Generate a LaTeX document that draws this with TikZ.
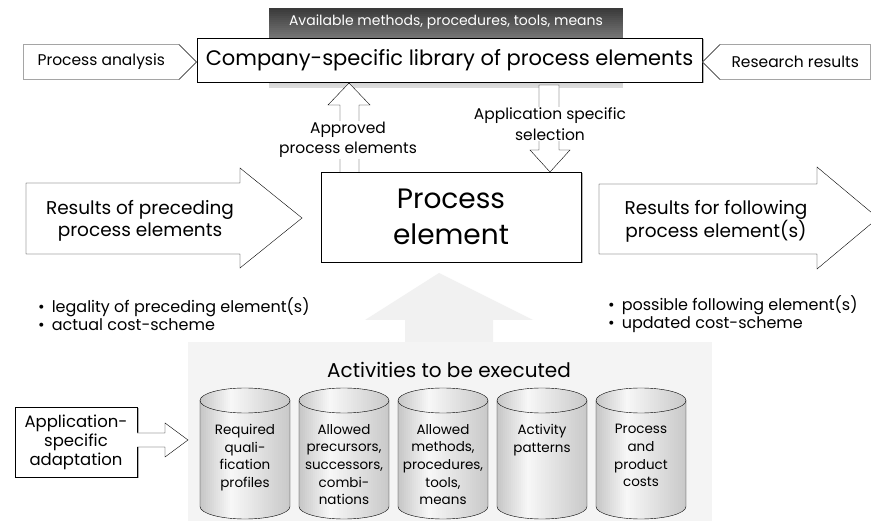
\documentclass[tikz,border=0pt]{standalone}
\usepackage{fontspec}
\setmainfont{Poppins}
\usepackage{tikz}
\usetikzlibrary{shadows,positioning,shapes.symbols}

\definecolor{bandtop}{HTML}{3A3A3A}
\definecolor{bandbot}{HTML}{DCDCDC}

\tikzset{
  box/.style={draw, fill=white, thin, inner sep=0pt, align=center,
    drop shadow={shadow xshift=1.5pt, shadow yshift=-1.5pt, opacity=1, fill=black!30}},
  plain/.style={drop shadow={shadow xshift=0pt, shadow yshift=0pt, opacity=1, fill=white}},
  outl/.style={draw=black, thin, fill=white, plain},
  tag/.style={signal, draw=black, fill=white, thin, plain, signal pointer angle=90, inner sep=0pt,
    minimum height=35pt, font=\fontsize{15.5}{20}\selectfont},
  lbl/.style={font=\fontsize{15.5}{20}\selectfont, align=center},
  bigtxt/.style={font=\fontsize{18.5}{22}\selectfont, align=center},
  bullets/.style={font=\fontsize{16}{18}\selectfont, align=left, anchor=west, inner sep=0pt},
  cyltext/.style={font=\fontsize{13.5}{17.7}\selectfont, align=center, anchor=north, inner sep=0pt},
}

\begin{document}
\begin{tikzpicture}[x=1pt, y=1pt]
\fill[white] (0,0) rectangle (871,-521);
\useasboundingbox (0,0) rectangle (871,-521);

% band of available means (stepped gradient)
\foreach \i in {0,...,39} {
  \pgfmathsetmacro\p{100*\i/39}
  \fill[bandbot!\p!bandtop] (269,-8-2*\i) rectangle (623,-10.3-2*\i);
}
\node[lbl, text=white, font=\fontsize{14}{16}\selectfont] (avail) at (446,-22) {Available methods, procedures, tools, means};

% library
\node[box, minimum width=505pt, minimum height=44pt, font=\fontsize{21}{24}\selectfont] (lib) at (449.5,-60) {Company-specific library of process elements};

% inputs to the library
\node[tag, signal to=east, minimum width=173pt, anchor=east] (ana) at ([yshift=-2pt]lib.west) {Process analysis};
\node[tag, signal to=west, minimum width=168pt, anchor=west] (res) at ([yshift=-2pt]lib.east) {Research results};

% activities background and big grey arrow
\fill[gray!9] (188,-342) rectangle (712,-521);
\fill[gray!11] (439,-273) -- (533,-320) -- (493,-320) -- (493,-342) -- (405,-342) -- (405,-320) -- (365,-320) -- cycle;

% process element
\node[box, minimum width=260pt, minimum height=90pt, font=\fontsize{28}{36}\selectfont] (pe) at (451,-217) {Process\\element};

% library <-> process element
\filldraw[outl] (340,-172) -- (340,-105) -- (328,-105) -- (349,-83) -- (370,-105) -- (359,-105) -- (359,-172);
\node[lbl, fill=white, inner sep=1pt] (appr) at (348,-140) {Approved\\process elements};
\filldraw[outl] (539,-85) -- (539,-150) -- (530,-150) -- (550,-172) -- (570,-150) -- (559,-150) -- (559,-85) -- cycle;
\node[lbl, fill=white, inner sep=1pt, font=\fontsize{15.5}{21}\selectfont] (sel) at (550,-124) {Application specific\\selection};

% preceding and following results
\filldraw[outl] (26,-183) -- (240,-183) -- (240,-168) -- (302,-218) -- (240,-268) -- (240,-254) -- (26,-254) -- cycle;
\node[bigtxt] (prev) at (140,-221) {Results of preceding\\process elements};
\filldraw[outl] (599,-184) -- (817,-184) -- (817,-167) -- (878,-218) -- (817,-269) -- (817,-254) -- (599,-254) -- cycle;
\node[bigtxt] (next) at (716,-221) {Results for following\\process element(s)};

\node[bullets] (precnd) at (38,-314) {\textbullet\hspace{7pt}legality of preceding element(s)\\\textbullet\hspace{7pt}actual cost-scheme};
\node[bullets] (postcnd) at (608,-314) {\textbullet\hspace{7pt}possible following element(s)\\\textbullet\hspace{7pt}updated cost-scheme};

% activities
\node[font=\fontsize{20}{22}\selectfont] (act) at (449,-370) {Activities to be executed};
\foreach \cx/\nm/\txt in {245/qual/{Required\\quali-\\fication\\profiles},
    344/prec/{Allowed\\precursors,\\successors,\\combi-\\nations},
    443/meth/{Allowed\\methods,\\procedures,\\tools,\\means},
    542/patt/{Activity\\patterns},
    641/cost/{Process\\and\\product\\costs}} {
  \begin{scope}
    \clip (\cx-45,-400.5) -- (\cx-45,-506.5) arc[start angle=180, end angle=360, x radius=45pt, y radius=12.5pt]
      -- (\cx+45,-400.5) arc[start angle=0, end angle=180, x radius=45pt, y radius=12.5pt] -- cycle;
    \foreach \k in {0,...,44} {
      \pgfmathsetmacro\g{ifthenelse(\k<15, 6+38*(15-\k)/15, 6+36*(\k-15)/29)}
      \fill[gray!\g] (\cx-45+2*\k,-387) rectangle (\cx-42.7+2*\k,-520);
    }
  \end{scope}
  \draw[thin] (\cx-45,-400.5) -- (\cx-45,-506.5) arc[start angle=180, end angle=360, x radius=45pt, y radius=12.5pt]
    -- (\cx+45,-400.5) arc[start angle=0, end angle=180, x radius=45pt, y radius=12.5pt] -- cycle;
  \draw[thin] (\cx-45,-400.5) arc[start angle=180, end angle=360, x radius=45pt, y radius=12.5pt];
  \node[cyltext] (\nm) at (\cx,-424) {\txt};
}

% adaptation
\node[box, minimum width=122pt, minimum height=70pt, font=\fontsize{16.5}{19}\selectfont] (adapt) at (76,-442) {Application-\\specific\\adaptation};
\filldraw[outl] (adapt.east |- 0,-433) -- (165,-433) -- (165,-423) -- (188,-440) -- (165,-457) -- (165,-447) -- (adapt.east |- 0,-447);
\end{tikzpicture}
\end{document}
